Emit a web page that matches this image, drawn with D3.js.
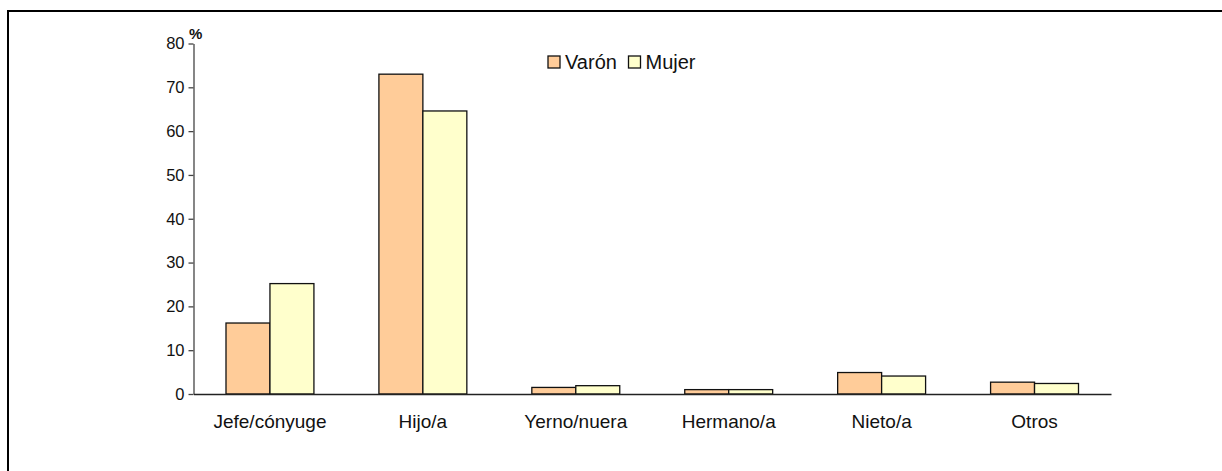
<!DOCTYPE html>
<html>
<head>
<meta charset="utf-8">
<script src="https://cdn.jsdelivr.net/npm/d3@7"></script>
<style>
  html, body { margin: 0; padding: 0; background: #fff; }
  svg { display: block; font-family: Arial, "Liberation Sans", sans-serif; }
</style>
</head>
<body>
<div id="chart"></div>
<script>
/* ---------- data ---------- */
const categories = ['Jefe/cónyuge', 'Hijo/a', 'Yerno/nuera', 'Hermano/a', 'Nieto/a', 'Otros'];
const seriesNames = ['Varón', 'Mujer'];
const varon = [16.2, 73.0, 1.5, 1.0, 4.9, 2.7];
const mujer = [25.2, 64.6, 1.9, 1.0, 4.1, 2.4];
const yTicks = [0, 10, 20, 30, 40, 50, 60, 70, 80];
const seriesColors = ['#FFCC99', '#FFFFCC'];

(function () {
  const W = 1222, H = 471;
  const margin = { left: 193.5, right: 111, top: 43.5, bottom: 77 };
  const innerW = W - margin.left - margin.right;
  const innerH = H - margin.top - margin.bottom;

  const svg = d3.select('#chart').append('svg')
    .attr('width', W)
    .attr('height', H)
    .attr('viewBox', `0 0 ${W} ${H}`);

  // outer frame (runs off the right and bottom edges)
  svg.append('rect')
    .attr('x', 8).attr('y', 11)
    .attr('width', W + 20).attr('height', H + 20)
    .attr('fill', 'none')
    .attr('stroke', '#000')
    .attr('stroke-width', 2);

  const g = svg.append('g').attr('transform', `translate(${margin.left},${margin.top})`);

  const x0 = d3.scaleBand().domain(categories).range([0, innerW]).paddingInner(0.425).paddingOuter(0.2125);
  const x1 = d3.scaleBand().domain(seriesNames).range([0, x0.bandwidth()]);
  const y = d3.scaleLinear().domain([0, 80]).range([innerH, 0]);

  const rows = categories.map((c, i) => ({ cat: c, vals: [varon[i], mujer[i]] }));

  const groups = g.selectAll('g.cat').data(rows).join('g')
    .attr('class', 'cat')
    .attr('transform', d => `translate(${x0(d.cat)},0)`);

  groups.selectAll('rect').data(d => d.vals.map((v, k) => ({ s: seriesNames[k], v, k }))).join('rect')
    .attr('x', d => x1(d.s))
    .attr('y', d => y(d.v))
    .attr('width', x1.bandwidth())
    .attr('height', d => innerH - y(d.v))
    .attr('fill', d => seriesColors[d.k])
    .attr('stroke', '#111')
    .attr('stroke-width', 1.3);

  // y axis
  const yAxis = g.append('g')
    .call(d3.axisLeft(y).tickValues(yTicks).tickSize(5).tickPadding(4).tickSizeOuter(0));
  yAxis.select('.domain').attr('stroke', '#444').attr('stroke-width', 1.3);
  yAxis.selectAll('.tick line').attr('stroke', '#444').attr('stroke-width', 1.3);
  yAxis.selectAll('text').attr('font-size', 16.5).attr('fill', '#111').attr('font-family', 'Arial, "Liberation Sans", sans-serif');

  // x axis baseline + labels
  const xAxis = g.append('g')
    .attr('transform', `translate(0,${innerH})`)
    .call(d3.axisBottom(x0).tickSize(0).tickPadding(21).tickSizeOuter(0));
  xAxis.select('.domain').attr('stroke', '#222').attr('stroke-width', 1.5);
  xAxis.selectAll('text').attr('font-size', 19).attr('fill', '#111').attr('font-family', 'Arial, "Liberation Sans", sans-serif');

  // unit label
  svg.append('text')
    .attr('x', 189).attr('y', 39)
    .attr('font-size', 15).attr('font-weight', 'bold').attr('fill', '#111')
    .text('%');

  // legend
  const legend = svg.append('g').attr('transform', 'translate(548,56)');
  const lx = [0, 80.5];
  seriesNames.forEach((s, k) => {
    const lg = legend.append('g').attr('transform', `translate(${lx[k]},0)`);
    lg.append('rect')
      .attr('width', 12).attr('height', 12)
      .attr('fill', seriesColors[k])
      .attr('stroke', '#111').attr('stroke-width', 1.3);
    lg.append('text')
      .attr('x', 17).attr('y', 13)
      .attr('font-size', 20).attr('fill', '#111')
      .text(s);
  });
})();
</script>
</body>
</html>
